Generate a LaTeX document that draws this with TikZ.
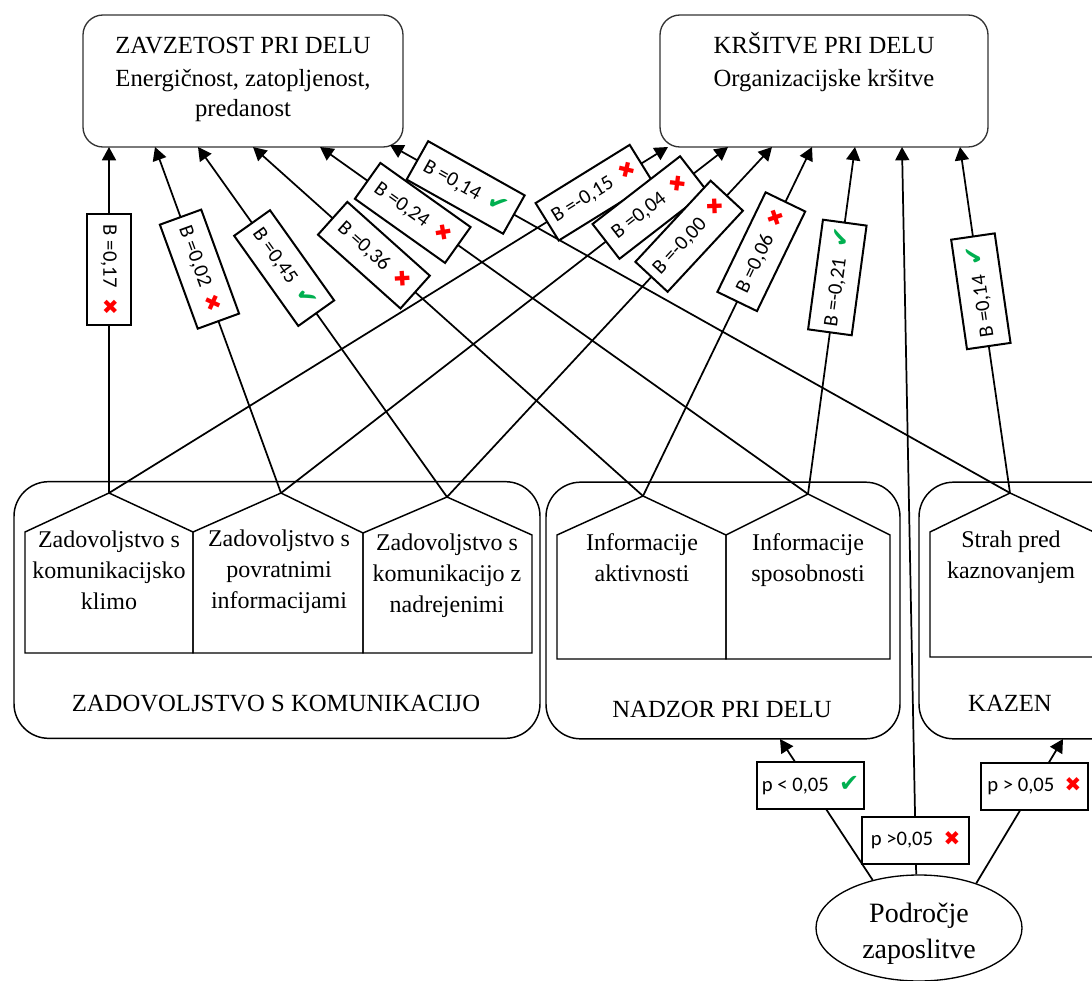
\documentclass[tikz,border=0pt]{standalone}
\usepackage{fontspec}
\setmainfont{Liberation Serif}
\newfontfamily\lblfont{Carlito}
\newfontfamily\symfont{DejaVu Sans}
\usetikzlibrary{arrows.meta,shapes.geometric}
\definecolor{okgreen}{RGB}{0,176,80}
\definecolor{badred}{RGB}{255,0,0}
\newcommand{\yesmark}{{\symfont\fontsize{18}{18}\selectfont\color{okgreen}\char"2714}}
\newcommand{\nomark}{{\symfont\fontsize{15}{15}\selectfont\color{badred}\char"2716}}
\newcommand{\txtstack}[1]{\begin{tabular}[t]{@{}c@{}}#1\end{tabular}}

\begin{document}
\begin{tikzpicture}[x=0.75pt,y=-0.75pt,
  topbox/.style={draw=black!80, line width=1pt, rounded corners=15pt,
    minimum height=99pt, inner sep=0pt},
  grpbox/.style={draw, line width=1.1pt, rounded corners=26pt,
    minimum height=192.5pt, inner sep=0pt},
  penta/.style={draw, line width=1.1pt, line join=miter},
  headtxt/.style={font=\fontsize{18.5}{22.5}\selectfont, inner sep=0pt, anchor=base},
  bodytxt/.style={font=\fontsize{18}{23.25}\selectfont, inner sep=0pt, anchor=base},
  grptxt/.style={font=\fontsize{18.5}{22}\selectfont, inner sep=0pt, anchor=base},
  podtxt/.style={font=\fontsize{21}{27}\selectfont, inner sep=0pt, anchor=base},
  arr/.style={draw, line width=1.3pt, -{Triangle[length=10pt,width=10.5pt]}},
  blbl/.style={draw, fill=white, line width=1.5pt,
    font=\lblfont\fontsize{15.5}{17}\selectfont,
    minimum width=83pt, minimum height=33pt, inner sep=2pt},
  plbl/.style={draw, fill=white, line width=1.5pt,
    font=\lblfont\fontsize{15.5}{17}\selectfont,
    minimum width=80pt, minimum height=35pt, inner sep=2pt}
]
\fill[white] (0,0) rectangle (1092,981);
\useasboundingbox (0,0) rectangle (1092,981);

% outcome boxes
\node[topbox, minimum width=240pt] (zav) at (243,81) {};
\node[headtxt] (zavA) at (243,54) {ZAVZETOST PRI DELU};
\node[headtxt] (zavB) at (243,87) {\txtstack{Energičnost, zatopljenost,\\predanost}};
\node[topbox, minimum width=246pt] (krs) at (824,81) {};
\node[headtxt] (krsA) at (824,54) {KRŠITVE PRI DELU};
\node[headtxt] (krsB) at (824,87) {Organizacijske kršitve};

% predictor groups
\node[grpbox, minimum width=394.5pt] (kom) at (277,610) {};
\node[grpbox, minimum width=265.5pt] (nad) at (723,610.5) {};
\node[grpbox, minimum width=184.5pt] (kaz) at (1042,610.5) {};

% pentagon apexes
\coordinate (c1) at (109,493);
\coordinate (c2) at (281,493);
\coordinate (c3) at (447,497);
\coordinate (n1) at (643,496);
\coordinate (n2) at (808,494);
\coordinate (k1) at (1010,493);

\draw[penta] (25,653) -- (25,532) -- (c1) -- (193,532) -- (193,653) -- cycle;
\draw[penta] (193,653) -- (193,532) -- (c2) -- (363,533) -- (363,653) -- cycle;
\draw[penta] (363,653) -- (363,533) -- (c3) -- (532,535) -- (532,653) -- cycle;
\draw[penta] (557,659) -- (557,535) -- (n1) -- (726,535) -- (726,659) -- cycle;
\draw[penta] (726,659) -- (726,535) -- (n2) -- (890,535) -- (890,659) -- cycle;
\draw[penta] (930,657) -- (930,532) -- (k1) -- (1096,533) -- (1096,657) -- cycle;

\node[bodytxt] (t1) at (109,547) {\txtstack{Zadovoljstvo s\\komunikacijsko\\klimo}};
\node[bodytxt] (t2) at (279,546) {\txtstack{Zadovoljstvo s\\povratnimi\\informacijami}};
\node[bodytxt] (t3) at (447,550) {\txtstack{Zadovoljstvo s\\komunikacijo z\\nadrejenimi}};
\node[bodytxt] (t4) at (642,550) {\txtstack{Informacije\\aktivnosti}};
\node[bodytxt] (t5) at (808,550) {\txtstack{Informacije\\sposobnosti}};
\node[bodytxt] (t6) at (1011,547) {\txtstack{Strah pred\\kaznovanjem}};

\node[grptxt] (g1) at (276,711) {ZADOVOLJSTVO S KOMUNIKACIJO};
\node[grptxt] (g2) at (722,717) {NADZOR PRI DELU};
\node[grptxt] (g3) at (1010,711) {KAZEN};

% moderator
\node[ellipse, draw, line width=1pt, minimum width=154.5pt, minimum height=79.5pt,
  inner sep=0pt] (pod) at (919,928) {};
\node[podtxt] (podT) at (919,922) {\txtstack{Področje\\zaposlitve}};

% arrow ends on the outcome boxes
\coordinate (zt1) at (109,147);
\coordinate (zt2) at (155,147);
\coordinate (zt3) at (198,147);
\coordinate (zt4) at (253,147);
\coordinate (zt5) at (320,147);
\coordinate (zt6) at (390,145);
\coordinate (kt1) at (668,147);
\coordinate (kt2) at (728,147);
\coordinate (kt3) at (772,147);
\coordinate (kt4) at (812,147);
\coordinate (kt5) at (855,147);
\coordinate (kt6) at (902,147);
\coordinate (kt7) at (960,147);
\coordinate (nb) at (780,739);
\coordinate (kb) at (1063,739);

% connectors
\draw[arr] (c1) -- (zt1);
\draw[arr] (c2) -- (zt2);
\draw[arr] (c3) -- (zt3);
\draw[arr] (n1) -- (zt4);
\draw[arr] (n2) -- (zt5);
\draw[arr] (k1) -- (zt6);
\draw[arr] (c1) -- (kt1);
\draw[arr] (c2) -- (kt2);
\draw[arr] (c3) -- (kt3);
\draw[arr] (n1) -- (kt4);
\draw[arr] (n2) -- (kt5);
\draw[arr] (pod.93) -- (kt6);
\draw[arr] (k1) -- (kt7);
\draw[arr] (pod.134) -- (nb);
\draw[arr] (pod.38) -- (kb);

% coefficient labels, on top of all lines
\path (c1) -- (zt1) node[blbl, pos=0.645, rotate=-90] (b1) {B =0,17\enspace\nomark};
\path (c2) -- (zt2) node[blbl, pos=0.647, sloped] (b2) {B =0,02\enspace\nomark};
\path (c3) -- (zt3) node[blbl, pos=0.654, sloped] (b3) {B =0,45\enspace\yesmark};
\path (n1) -- (zt4) node[blbl, pos=0.69, sloped] (b4) {B =0,36\enspace\nomark};
\path (n2) -- (zt5) node[blbl, pos=0.81, sloped] (b5) {B =0,24\enspace\nomark};
\path (k1) -- (zt6) node[blbl, pos=0.878, sloped] (b6) {B =0,14\enspace\yesmark};
\path (c1) -- (kt1) node[blbl, pos=0.868, sloped] (b7) {B =-0,15\enspace\nomark};
\path (c2) -- (kt2) node[blbl, pos=0.825, sloped] (b8) {B =0,04\enspace\nomark};
\path (c3) -- (kt3) node[blbl, pos=0.745, sloped] (b9) {B =-0,00\enspace\nomark};
\path (n1) -- (kt4) node[blbl, pos=0.70, sloped] (b10) {B =0,06\enspace\nomark};
\path (n2) -- (kt5) node[blbl, pos=0.624, sloped] (b11) {B =-0,21\enspace\yesmark};
\path (k1) -- (kt7) node[blbl, pos=0.583, sloped, allow upside down] (b12) {B =0,14\enspace\yesmark};
\path (pod.93) -- (kt6) node[plbl, pos=0.047] (p1) {p >0,05\enspace\nomark};
\path (pod.134) -- (nb) node[plbl, pos=0.67] (p2) {p < 0,05\enspace\yesmark};
\path (pod.38) -- (kb) node[plbl, pos=0.67] (p3) {p > 0,05\enspace\nomark};
\end{tikzpicture}
\end{document}
